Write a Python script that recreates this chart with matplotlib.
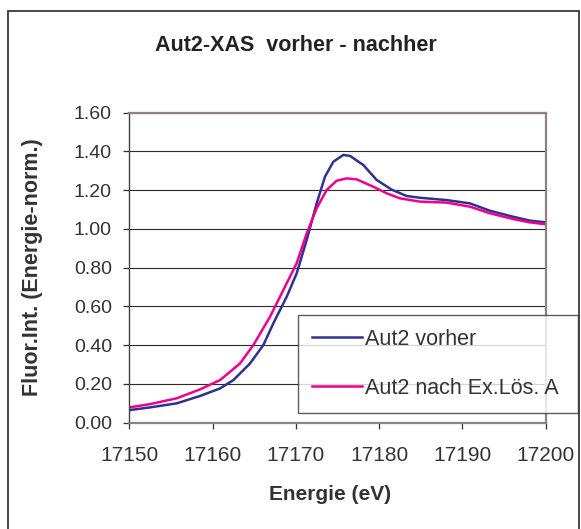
import matplotlib
matplotlib.use("Agg")
import matplotlib.pyplot as plt
from matplotlib.patches import Rectangle

plt.rcParams['font.family'] = ['Liberation Sans', 'DejaVu Sans']

# Aut2 before treatment
energy_vorher = [17150.0, 17152.5, 17155.7, 17158.5, 17160.9, 17162.5, 17164.5,
                 17166.1, 17167.3, 17168.9, 17170.1, 17171.3, 17172.5, 17173.5,
                 17174.5, 17175.7, 17176.5, 17178.1, 17179.7, 17181.5, 17183.3,
                 17184.9, 17188.1, 17190.9, 17193.3, 17196.1, 17198.1, 17200.0]
fluor_vorher = [0.065, 0.079, 0.100, 0.138, 0.177, 0.220, 0.306,
                0.401, 0.513, 0.650, 0.771, 0.943, 1.132, 1.270,
                1.347, 1.382, 1.377, 1.330, 1.253, 1.203, 1.170,
                1.161, 1.149, 1.132, 1.094, 1.063, 1.043, 1.034]

# Aut2 after extraction solution A
energy_nachher = [17150.0, 17152.5, 17155.7, 17158.5, 17160.9, 17163.3, 17164.9,
                  17166.9, 17168.5, 17170.1, 17171.3, 17172.5, 17173.7, 17174.9,
                  17176.1, 17177.3, 17179.3, 17180.9, 17182.5, 17184.9, 17188.1,
                  17190.9, 17193.3, 17196.1, 17198.1, 17200.0]
fluor_nachher = [0.079, 0.096, 0.126, 0.172, 0.220, 0.306, 0.401,
                 0.547, 0.685, 0.823, 0.977, 1.107, 1.201, 1.249,
                 1.261, 1.256, 1.218, 1.184, 1.158, 1.141, 1.136,
                 1.115, 1.081, 1.051, 1.034, 1.024]

series_labels = ["Aut2 vorher", "Aut2 nach Ex.Lös. A"]
x_ticks = [17150, 17160, 17170, 17180, 17190, 17200]
y_ticks = [0.0, 0.2, 0.4, 0.6, 0.8, 1.0, 1.2, 1.4, 1.6]

W, H = 581, 529
fig = plt.figure(figsize=(W / 100, H / 100), dpi=100)
fig.patch.set_facecolor("white")

# outer chart frame
fig.patches.append(Rectangle((7.5 / W, -0.05), (579 - 7.5) / W, 1.05 - 10.5 / H,
                             transform=fig.transFigure, fill=False,
                             edgecolor="#3a3a3a", linewidth=1.3, clip_on=False))

ax = fig.add_axes([129.3 / W, 1 - 422.7 / H, 416.4 / W, 310 / H])
ax.set_facecolor("white")

ax.plot(energy_vorher, fluor_vorher, color="#2E3192", linewidth=1.8, label=series_labels[0])
ax.plot(energy_nachher, fluor_nachher, color="#EC008C", linewidth=1.8, label=series_labels[1])

ax.set_xlim(17150, 17200)
ax.set_ylim(0, 1.6)
ax.set_xticks(x_ticks)
ax.set_xticklabels([str(t) for t in x_ticks])
ax.set_yticks(y_ticks)
ax.set_yticklabels([f"{t:.2f}" for t in y_ticks])

ax.yaxis.grid(True, color="#2a2a2a", linewidth=0.8)
ax.set_axisbelow(True)

for side in ["top", "right", "bottom"]:
    ax.spines[side].set_color("#8c8282")
    ax.spines[side].set_linewidth(1.6)
ax.spines["left"].set_color("#404040")
ax.spines["left"].set_linewidth(1.0)

ax.tick_params(axis="both", colors="#333333", labelcolor="#333333", direction="out",
               length=4.5, width=0.9)
ax.tick_params(axis="x", labelsize=15, pad=12)
ax.tick_params(axis="y", labelsize=14, pad=8)

fig.text(296 / W, 1 - 46 / H, "Aut2-XAS  vorher - nachher", ha="center", va="center",
         fontsize=15.5, fontweight="bold", color="#222222")
fig.text(330 / W, 1 - 494 / H, "Energie (eV)", ha="center", va="center",
         fontsize=15, fontweight="bold", color="#333333")
fig.text(33 / W, 1 - 267 / H, "Fluor.Int. (Energie-norm.)", ha="center", va="center",
         rotation=90, fontsize=15.5, fontweight="bold", color="#333333")

leg = ax.legend(loc="upper left", bbox_to_anchor=(298 / W, 1 - 411 / H, 280 / W, 96 / H),
                bbox_transform=fig.transFigure, mode="expand", fontsize=15.5,
                frameon=True, fancybox=False, borderpad=0.65, labelspacing=1.3,
                handlelength=2.3, handletextpad=0.15, borderaxespad=0)
leg.get_frame().set_edgecolor("#333333")
leg.get_frame().set_linewidth(1.0)
for t in leg.get_texts():
    t.set_color("#333333")

fig.savefig("out.png", dpi=100, facecolor="white")
